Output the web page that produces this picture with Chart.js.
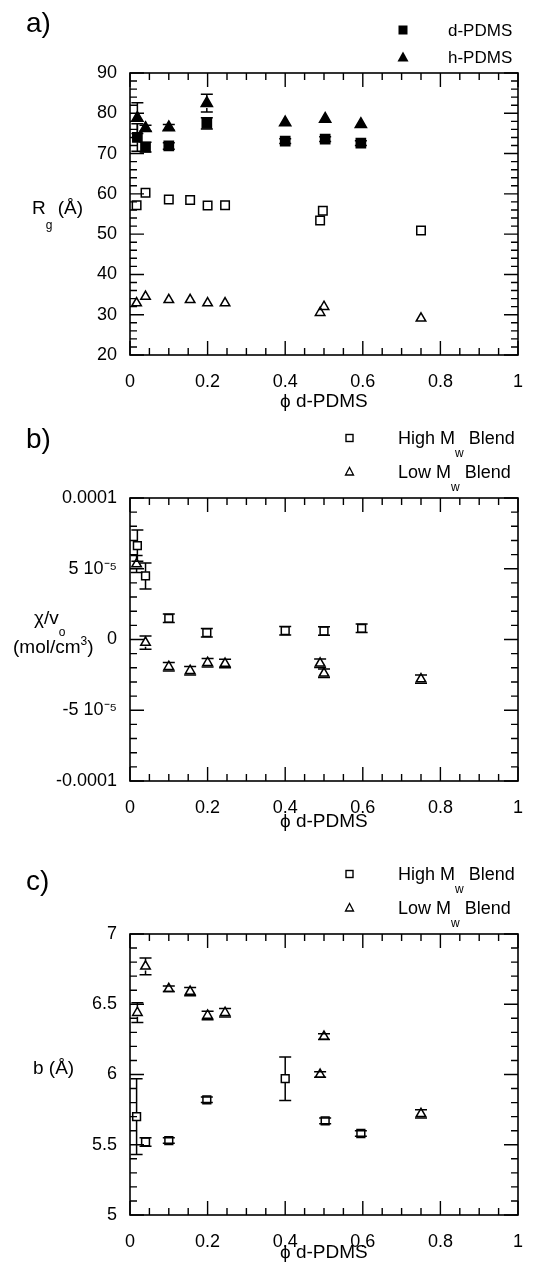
<!DOCTYPE html>
<html>
<head>
<meta charset="utf-8">
<title>PDMS blends</title>
<script src="https://cdn.jsdelivr.net/npm/chart.js@4.4.1/dist/chart.umd.min.js"></script>
<style>
  html, body { margin: 0; padding: 0; background: #fff; }
  body { position: relative; width: 536px; height: 1270px; overflow: hidden;
         font-family: "Liberation Sans", Arial, Helvetica, sans-serif; color: #000; }
  canvas { position: absolute; left: 0; }
  .txt { position: absolute; white-space: nowrap; line-height: 1; }
  .sub { position: relative; font-size: 12px; }
  .sup { position: relative; font-size: 12px; top: -8px; }
  #marks { position: absolute; left: 0; top: 0; pointer-events: none; }
</style>
</head>
<body>
<canvas id="chartA" width="536" height="420" style="top:0"></canvas>
<canvas id="chartB" width="536" height="420" style="top:420px"></canvas>
<canvas id="chartC" width="536" height="430" style="top:840px"></canvas>

<!-- panel letters -->
<div class="txt" style="left:26px;top:9px;font-size:28px">a)</div>
<div class="txt" style="left:26px;top:425px;font-size:28px">b)</div>
<div class="txt" style="left:26px;top:867px;font-size:28px">c)</div>

<!-- y titles -->
<div class="txt" style="left:32px;top:198px;font-size:19px">R<span class="sub" style="top:15px">g</span> (Å)</div>
<div class="txt" style="left:34px;top:608px;font-size:19px">χ/v<span class="sub" style="top:12px">o</span></div>
<div class="txt" style="left:13px;top:637px;font-size:19px">(mol/cm<span class="sup">3</span>)</div>
<div class="txt" style="left:33px;top:1058px;font-size:19px">b (Å)</div>

<!-- x titles -->
<div class="txt" style="left:280px;top:391px;font-size:19px">ϕ d-PDMS</div>
<div class="txt" style="left:280px;top:811px;font-size:19px">ϕ d-PDMS</div>
<div class="txt" style="left:280px;top:1242px;font-size:19px">ϕ d-PDMS</div>

<!-- legends -->
<div class="txt" style="left:448px;top:22px;font-size:17px">d-PDMS</div>
<div class="txt" style="left:448px;top:49px;font-size:17px">h-PDMS</div>
<div class="txt" style="left:398px;top:429px;font-size:18px">High M<span class="sub" style="top:13px">w</span> Blend</div>
<div class="txt" style="left:398px;top:463px;font-size:18px">Low M<span class="sub" style="top:13px">w</span> Blend</div>
<div class="txt" style="left:398px;top:865px;font-size:18px">High M<span class="sub" style="top:13px">w</span> Blend</div>
<div class="txt" style="left:398px;top:899px;font-size:18px">Low M<span class="sub" style="top:13px">w</span> Blend</div>

<svg id="marks" width="536" height="1270">
  <rect x="398.5" y="25.5" width="9" height="9" fill="#000"/>
  <polygon points="403,51.5 397.5,61.5 408.5,61.5" fill="#000"/>
  <rect x="346" y="434.5" width="7" height="7" fill="none" stroke="#000" stroke-width="1.4"/>
  <polygon points="349.5,467.5 345.5,475 353.5,475" fill="none" stroke="#000" stroke-width="1.3"/>
  <rect x="346" y="870.5" width="7" height="7" fill="none" stroke="#000" stroke-width="1.4"/>
  <polygon points="349.5,903.5 345.5,911 353.5,911" fill="none" stroke="#000" stroke-width="1.3"/>
</svg>

<script>
// ---- a) radius of gyration ----
const phiD = [0.019, 0.04, 0.10, 0.198, 0.40, 0.503, 0.595];
const rgD = [74.0, 71.6, 71.9, 77.5, 73.1, 73.6, 72.6];
const rgDErr = [3.4, 1.2, 0.8, 1.4, 0.6, 0.6, 0.6];
const phiH = [0.019, 0.04, 0.10, 0.198, 0.40, 0.503, 0.595];
const rgH = [78.8, 76.3, 76.5, 82.5, 77.7, 78.6, 77.3];
const rgHErr = [3.8, 0.7, 0.7, 2.2, 0, 0, 0];
const phiHighA = [0.017, 0.04, 0.10, 0.155, 0.20, 0.245, 0.49, 0.497, 0.75];
const rgHighA = [57.2, 60.3, 58.6, 58.5, 57.1, 57.2, 53.4, 55.8, 50.9];
const phiLowA = [0.017, 0.04, 0.10, 0.155, 0.20, 0.245, 0.49, 0.50, 0.75];
const rgLowA = [32.9, 34.5, 33.7, 33.7, 32.9, 32.9, 30.5, 32.0, 29.1];

// ---- b) chi / v0 ----
const phiHighB = [0.019, 0.04, 0.10, 0.198, 0.40, 0.50, 0.597];
const chiHigh = [6.63e-5, 4.49e-5, 1.5e-5, 0.48e-5, 0.62e-5, 0.6e-5, 0.79e-5];
const chiHighErr = [1.1e-5, 0.92e-5, 0.3e-5, 0.3e-5, 0.3e-5, 0.3e-5, 0.3e-5];
const phiLowB = [0.017, 0.04, 0.10, 0.155, 0.20, 0.245, 0.49, 0.50, 0.75];
const chiLow = [5.33e-5, -0.22e-5, -1.92e-5, -2.2e-5, -1.64e-5, -1.7e-5, -1.68e-5, -2.39e-5, -2.8e-5];
const chiLowErr = [0.6e-5, 0.47e-5, 0.3e-5, 0.3e-5, 0.3e-5, 0.3e-5, 0.3e-5, 0.3e-5, 0.3e-5];

// ---- c) statistical segment length ----
const phiHighC = [0.017, 0.04, 0.10, 0.198, 0.40, 0.503, 0.595];
const bHigh = [5.70, 5.52, 5.53, 5.82, 5.97, 5.67, 5.58];
const bHighErr = [0.27, 0.03, 0.02, 0.02, 0.155, 0.02, 0.02];
const phiLowC = [0.019, 0.04, 0.10, 0.155, 0.20, 0.245, 0.49, 0.50, 0.75];
const bLow = [6.44, 6.77, 6.61, 6.59, 6.42, 6.44, 6.0, 6.27, 5.72];
const bLowErr = [0.07, 0.06, 0.02, 0.03, 0.03, 0.03, 0.02, 0.02, 0.03];

// tick labels
const xTickLabels = ["0", "0.2", "0.4", "0.6", "0.8", "1"];
const yTicksA = ["20", "30", "40", "50", "60", "70", "80", "90"];
const yTicksB = ["-0.0001", "-5 10⁻⁵", "0", "5 10⁻⁵", "0.0001"];
const yTicksC = ["5", "5.5", "6", "6.5", "7"];

Chart.defaults.font.family = "'Liberation Sans', Arial, Helvetica, sans-serif";
Chart.defaults.font.size = 18;
Chart.defaults.color = "#000";

// frame with inward major/minor ticks on all four sides
const frameTicks = {
    id: "frameTicks",
    afterDraw(chart, args, opts) {
        const { ctx, chartArea: a, scales: { x, y } } = chart;
        ctx.save();
        ctx.strokeStyle = "#000";
        ctx.lineWidth = 1.6;
        ctx.strokeRect(a.left, a.top, a.right - a.left, a.bottom - a.top);
        const walk = (scale, minor, major, draw) => {
            const n = Math.round((scale.max - scale.min) / minor);
            for (let i = 0; i <= n; i++) {
                const v = scale.min + i * minor;
                const r = v / major;
                draw(scale.getPixelForValue(v), Math.abs(r - Math.round(r)) < 1e-6 ? 14 : 7);
            }
        };
        ctx.lineWidth = 1.4;
        ctx.beginPath();
        walk(x, opts.xMinor, opts.xMajor, (p, len) => {
            ctx.moveTo(p, a.bottom); ctx.lineTo(p, a.bottom - len);
            ctx.moveTo(p, a.top); ctx.lineTo(p, a.top + len);
        });
        walk(y, opts.yMinor, opts.yMajor, (p, len) => {
            ctx.moveTo(a.left, p); ctx.lineTo(a.left + len, p);
            ctx.moveTo(a.right, p); ctx.lineTo(a.right - len, p);
        });
        ctx.stroke();
        ctx.restore();
    }
};

// vertical error bars with caps, read from dataset.errors
const errorBars = {
    id: "errorBars",
    afterDatasetsDraw(chart) {
        const { ctx, scales: { x, y } } = chart;
        ctx.save();
        ctx.strokeStyle = "#000";
        ctx.lineWidth = 1.5;
        chart.data.datasets.forEach(ds => {
            if (!ds.errors) return;
            const gap = ds.pointRadius * 0.75;
            ds.data.forEach((pt, i) => {
                const e = ds.errors[i];
                if (!e) return;
                const px = x.getPixelForValue(pt.x);
                const py = y.getPixelForValue(pt.y);
                const top = y.getPixelForValue(pt.y + e);
                const bot = y.getPixelForValue(pt.y - e);
                ctx.beginPath();
                if (top < py - gap) { ctx.moveTo(px, top); ctx.lineTo(px, py - gap); }
                if (bot > py + gap) { ctx.moveTo(px, py + gap); ctx.lineTo(px, bot); }
                ctx.moveTo(px - 6, top); ctx.lineTo(px + 6, top);
                ctx.moveTo(px - 6, bot); ctx.lineTo(px + 6, bot);
                ctx.stroke();
            });
        });
        ctx.restore();
    }
};

function series(xs, ys, errs, style, filled, radius) {
    return {
        data: xs.map((v, i) => ({ x: v, y: ys[i] })),
        errors: errs,
        pointStyle: style,
        pointRadius: radius,
        pointBorderColor: "#000",
        pointBackgroundColor: filled ? "#000" : "rgba(0,0,0,0)",
        pointBorderWidth: 1.5,
        showLine: false
    };
}

function makeChart(id, topPad, bottomBox, yMin, yMax, yStep, yLabels, yMinor, yMajor, datasets) {
    return new Chart(document.getElementById(id), {
        type: "scatter",
        data: { datasets },
        options: {
            responsive: false,
            animation: false,
            devicePixelRatio: 1,
            events: [],
            layout: { padding: { left: 0, right: 18, top: topPad, bottom: 0 } },
            plugins: {
                legend: { display: false },
                tooltip: { enabled: false },
                frameTicks: { xMinor: 0.05, xMajor: 0.2, yMinor, yMajor }
            },
            scales: {
                x: {
                    type: "linear", min: 0, max: 1,
                    grid: { display: false, drawTicks: false },
                    border: { display: false },
                    ticks: { stepSize: 0.2, padding: 16, maxRotation: 0, autoSkip: false,
                             callback: (v, i) => xTickLabels[i] },
                    afterFit: s => { s.height = bottomBox; s.paddingLeft = 0; s.paddingRight = 0; }
                },
                y: {
                    type: "linear", min: yMin, max: yMax,
                    grid: { display: false, drawTicks: false },
                    border: { display: false },
                    ticks: { stepSize: yStep, padding: 13, autoSkip: false,
                             callback: (v, i) => yLabels[i] },
                    afterFit: s => { s.width = 130; s.paddingTop = 0; s.paddingBottom = 0; }
                }
            }
        },
        plugins: [errorBars, frameTicks]
    });
}

makeChart("chartA", 73, 65, 20, 90, 10, yTicksA, 2, 10, [
    series(phiHighA, rgHighA, null, "rect", false, 6),
    series(phiLowA, rgLowA, null, "triangle", false, 5.5),
    series(phiD, rgD, rgDErr, "rect", true, 6.5),
    series(phiH, rgH, rgHErr, "triangle", true, 6.5)
]);

makeChart("chartB", 78, 59, -0.0001, 0.0001, 0.00005, yTicksB, 0.00001, 0.00005, [
    series(phiHighB, chiHigh, chiHighErr, "rect", false, 5.5),
    series(phiLowB, chiLow, chiLowErr, "triangle", false, 5.5)
]);

makeChart("chartC", 94, 55, 5, 7, 0.5, yTicksC, 0.1, 0.5, [
    series(phiHighC, bHigh, bHighErr, "rect", false, 5.5),
    series(phiLowC, bLow, bLowErr, "triangle", false, 5.5)
]);
</script>
</body>
</html>
